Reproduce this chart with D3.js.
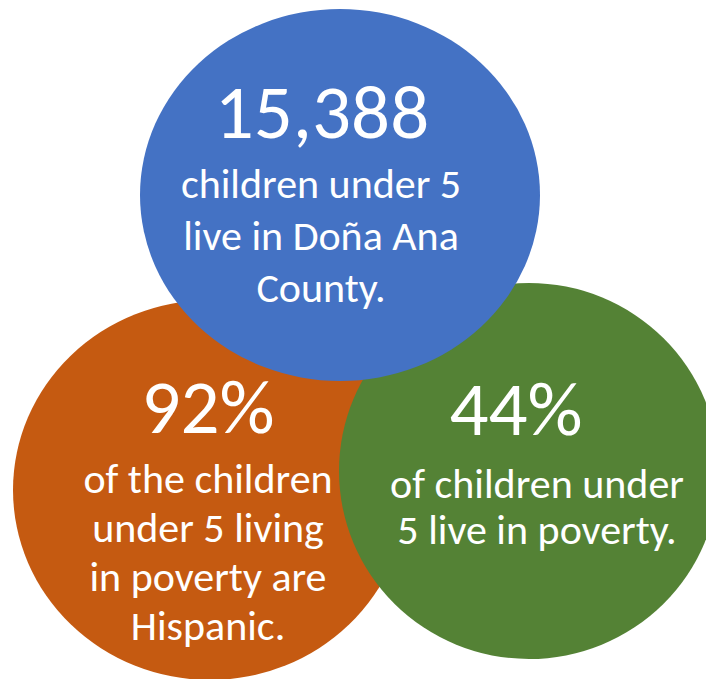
<!DOCTYPE html>
<html>
<head>
<meta charset="utf-8">
<script src="https://cdn.jsdelivr.net/npm/d3@7"></script>
<style>
  body { margin: 0; background: #fff; }
</style>
</head>
<body>
<div id="wrapper"></div>
<script>
// 1. Data
const keys = ["hispanic", "poverty", "children"]
const headlines = ["92%", "44%", "15,388"]
const captions = [
  ["of the children", "under 5 living", "in poverty are", "Hispanic."],
  ["of children under", "5 live in poverty."],
  ["children under 5", "live in Doña Ana", "County."]
]
const colors = ["#c55a11", "#548235", "#4472c4"]

// 2. Dimensions
const dimensions = { width: 706, height: 679 }

// layout of each bubble, drawn in this order (blue on top)
const layout = {
  hispanic: { cx: 210, cy: 490, rx: 197, ry: 190, textX: 208, capX: 208, headY: 433, capY: 493, lineH: 49 },
  poverty:  { cx: 529, cy: 471, rx: 190, ry: 188, textX: 516, capX: 537, headY: 435, capY: 498, lineH: 46 },
  children: { cx: 340, cy: 195, rx: 200, ry: 186, textX: 322, capX: 321, headY: 138, capY: 198, lineH: 52 }
}

const bubbles = keys.map((k, i) => ({
  key: k,
  headline: headlines[i],
  lines: captions[i],
  color: colors[i],
  ...layout[k]
}))

// 3. Canvas
const svg = d3.select("#wrapper")
  .append("svg")
    .attr("width", dimensions.width)
    .attr("height", dimensions.height)
    .style("display", "block")

const font = "Carlito, Calibri, Lato, sans-serif"

// 4. Bubbles
const groups = svg.selectAll("g.bubble")
  .data(bubbles)
  .join("g")
    .attr("class", "bubble")

groups.append("ellipse")
    .attr("cx", d => d.cx)
    .attr("cy", d => d.cy)
    .attr("rx", d => d.rx)
    .attr("ry", d => d.ry)
    .attr("fill", d => d.color)

// 5. Labels
groups.append("text")
    .attr("x", d => d.textX)
    .attr("y", d => d.headY)
    .attr("text-anchor", "middle")
    .attr("fill", "#fff")
    .style("font-family", font)
    .style("font-size", "77px")
    .text(d => d.headline)

groups.each(function(d) {
  d3.select(this).selectAll("text.caption")
    .data(d.lines)
    .join("text")
      .attr("class", "caption")
      .attr("x", d.capX)
      .attr("y", (t, i) => d.capY + i * d.lineH)
      .attr("text-anchor", "middle")
      .attr("fill", "#fff")
      .style("font-family", font)
      .style("font-size", "42px")
      .text(t => t)
})
</script>
</body>
</html>
